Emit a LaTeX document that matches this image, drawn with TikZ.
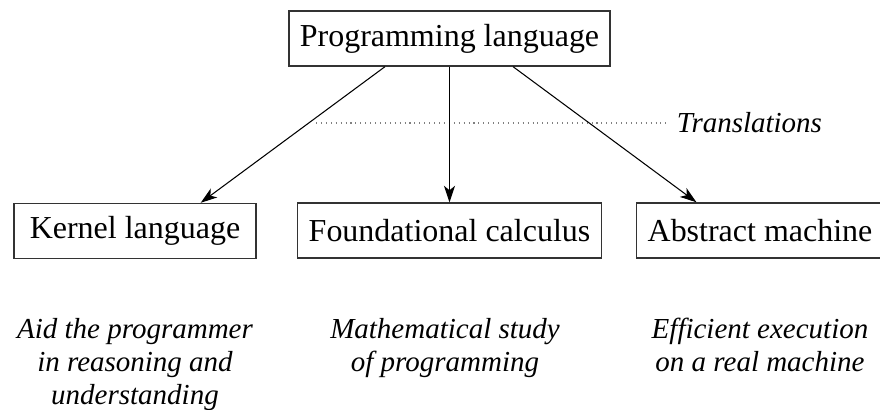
\documentclass[tikz,border=0pt]{standalone}
\usepackage{fontspec}
\setmainfont{Liberation Serif}
\usepackage{tikz}
\usetikzlibrary{calc,positioning,arrows.meta}
\tikzset{
	->,
	>={Stealth[length=3.3mm,width=2.2mm,inset=0.9mm]},
	every path/.style={line width=0.6pt},
	box/.style={draw=black!80, line width=0.8pt, minimum height=1.1cm, inner xsep=0.22cm,
		font=\fontsize{18.2}{21.8}\selectfont},
	note/.style={align=center, anchor=north, inner sep=0pt,
		font=\fontsize{16.5}{18.6}\selectfont\itshape},
}

\begin{document}
\begin{tikzpicture}
		\useasboundingbox (0,0) rectangle (17.6,8.2);
		\node[box] (prog) at (8.99,7.43) {Programming language};
		\node[box, minimum width=4.84cm] (kernel) at (2.70,3.58) {Kernel language};
		\node[box] (found) at (8.99,3.59) {Foundational calculus};
		\node[box] (abstract) at (15.2,3.59) {Abstract machine};

		% translations
		\node[font=\fontsize{16.5}{18.6}\selectfont\itshape, inner xsep=0.2cm] (trans) at (14.99,5.74) {Translations};
		\coordinate (dots) at (6.32,5.74);
		\draw[-, gray, dash pattern=on 0.6pt off 2.2pt] (dots) -- (trans.west);

		\draw ($(prog.south west)!0.3!(prog.south east)$) -- ($(kernel.north west)!0.77!(kernel.north east)$);
		\draw (prog.south) -- (found.north);
		\draw ($(prog.south west)!0.697!(prog.south east)$) -- ($(abstract.north west)!0.244!(abstract.north east)$);

		\node[note] (aid) at (2.70,1.84) {Aid the programmer\\in reasoning and\\understanding};
		\node[note] (math) at (8.90,1.84) {Mathematical study\\of programming};
		\node[note] (eff) at (15.2,1.84) {Efficient execution\\on a real machine};
	\end{tikzpicture}
\end{document}
